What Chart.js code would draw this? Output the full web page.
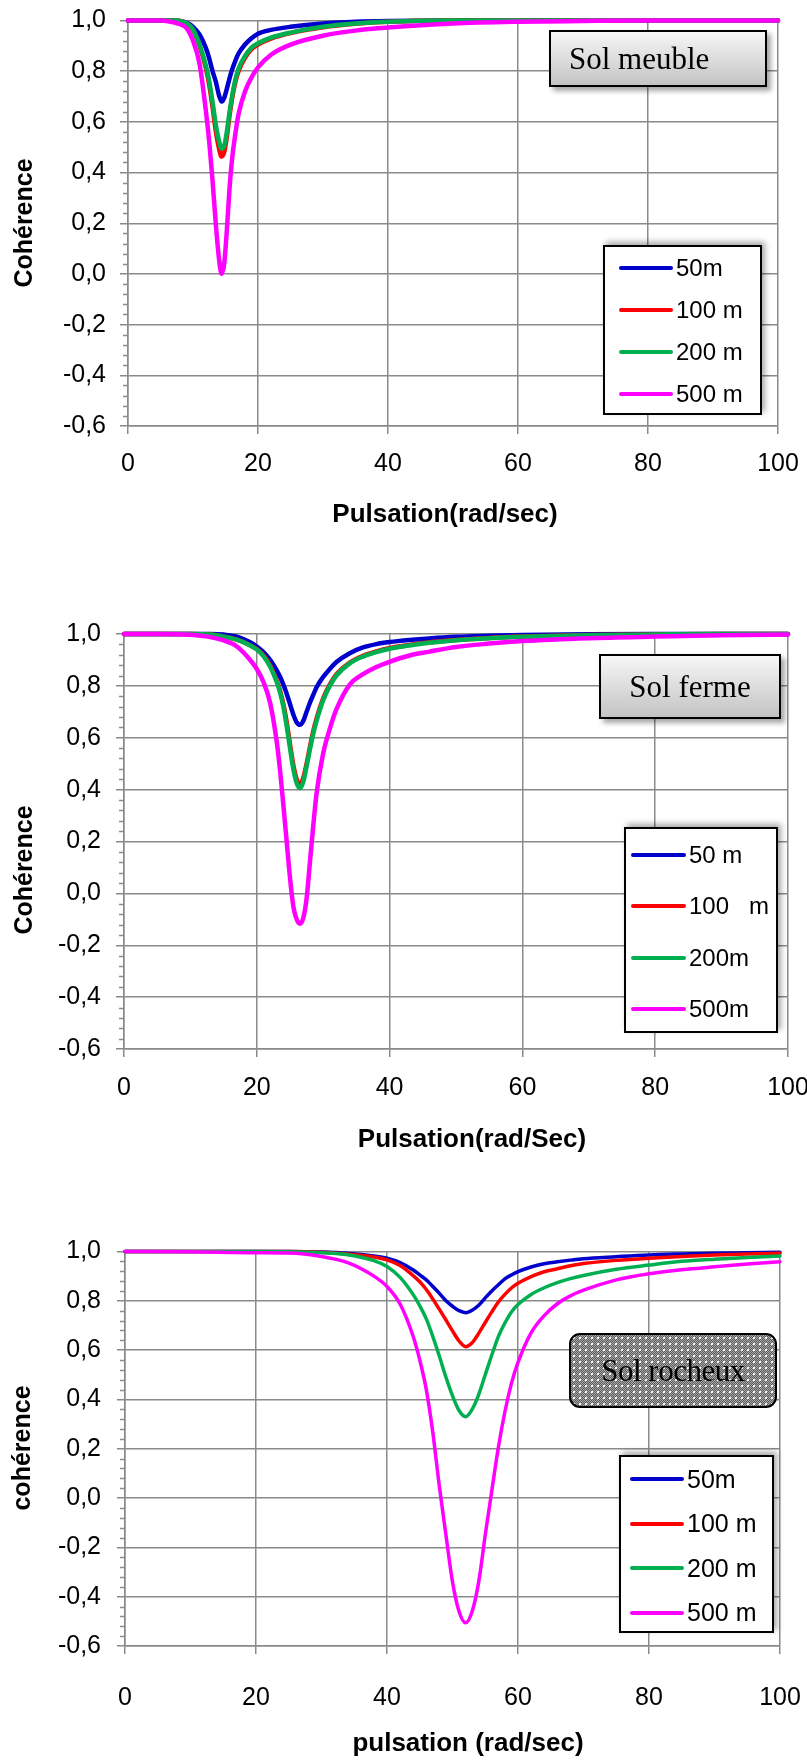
<!DOCTYPE html>
<html>
<head>
<meta charset="utf-8">
<script src="https://cdn.jsdelivr.net/npm/chart.js@4.4.1/dist/chart.umd.min.js"></script>
<style>
  body { margin: 0; background: #fff; }
  #page { position: relative; width: 807px; height: 1760px; overflow: hidden; }
  .plot { position: absolute; left: 0; width: 807px; }
  .tag {
    position: absolute; box-sizing: border-box; border: 2.5px solid #000;
    font-family: "Liberation Serif", "Times New Roman", serif; font-size: 31px; color: #000;
    display: flex; align-items: center; white-space: pre;
  }
  .shade { background: linear-gradient(#f7f7f7, #c3c3c3); box-shadow: 4px 4px 5px rgba(0,0,0,.35); }
  .rock {
    border-radius: 11px; background-color: #7c7c7c;
    background-image: radial-gradient(circle, rgba(255,255,255,.95) 0.8px, transparent 1.2px),
                      repeating-conic-gradient(#5c5c5c 0 25%, #a9a9a9 0 50%);
    background-size: 6px 6px, 2px 2px;
  }
  .legend {
    position: absolute; box-sizing: border-box; border: 2px solid #000; background: #fff;
    box-shadow: 3px -3px 6px rgba(0,0,0,.35);
    font-family: "Liberation Sans", Arial, sans-serif; color: #000;
  }
  .legend .row { display: flex; align-items: center; white-space: pre; }
  .legend .swatch { height: 4px; border-radius: 2px; display: inline-block; }
</style>
</head>
<body>
<div id="page">
  <div class="plot" id="p1"><canvas id="c1"></canvas></div>
  <div class="plot" id="p2"><canvas id="c2"></canvas></div>
  <div class="plot" id="p3"><canvas id="c3"></canvas></div>

  <div class="tag shade" style="left:549px; top:30px; width:218px; height:57px; padding-left:18px;">Sol meuble</div>
  <div class="tag shade" style="left:599px; top:654px; width:182px; height:65px; justify-content:center;">Sol ferme</div>
  <div class="tag rock" style="left:569px; top:1333px; width:208px; height:75px; justify-content:center; letter-spacing:-0.5px;">Sol rocheux</div>

  <div class="legend" id="l1"></div>
  <div class="legend" id="l2"></div>
  <div class="legend" id="l3"></div>
</div>

<script>
// axis ranges
const xMin = 0, xMax = 100, xStep = 20;
const yMin = -0.6, yMax = 1.0, yStep = 0.2, yMinorStep = 0.04;

const colors = ["#0000CC", "#FF0000", "#00B050", "#FF00FF"];

// Sol meuble
const meubleNames = ["50m", "100 m", "200 m", "500 m"];
const meubleX   = [0, 5, 7, 8, 9, 10, 11, 12, 12.5, 13, 13.5, 14, 14.4, 14.8, 15.2, 15.6, 16, 16.5, 17, 18, 19, 20, 22, 25, 30, 35, 40, 50, 60, 70, 80, 90, 100];
const meuble50  = [1, 1, 1, 0.998, 0.992, 0.975, 0.945, 0.89, 0.85, 0.80, 0.76, 0.705, 0.68, 0.695, 0.73, 0.77, 0.805, 0.84, 0.87, 0.905, 0.93, 0.948, 0.963, 0.975, 0.988, 0.995, 0.998, 1, 1, 1, 1, 1, 1];
const meuble100 = [1, 1, 1, 0.998, 0.99, 0.963, 0.90, 0.81, 0.745, 0.66, 0.565, 0.495, 0.463, 0.48, 0.54, 0.62, 0.69, 0.755, 0.80, 0.853, 0.887, 0.905, 0.928, 0.95, 0.973, 0.987, 0.995, 1, 1, 1, 1, 1, 1];
const meuble200 = [1, 1, 1, 0.998, 0.99, 0.965, 0.905, 0.82, 0.76, 0.68, 0.59, 0.525, 0.495, 0.505, 0.56, 0.635, 0.70, 0.765, 0.81, 0.86, 0.893, 0.91, 0.932, 0.952, 0.975, 0.988, 0.995, 1, 1, 1, 1, 1, 1];
const meuble500 = [1, 1, 0.993, 0.985, 0.97, 0.92, 0.83, 0.64, 0.52, 0.37, 0.20, 0.06, 0.0, 0.04, 0.17, 0.33, 0.45, 0.55, 0.63, 0.72, 0.775, 0.815, 0.865, 0.905, 0.94, 0.96, 0.972, 0.988, 0.995, 0.998, 1, 1, 1];

// Sol ferme
const fermeNames = ["50 m", "100   m", "200m", "500m"];
const fermeX   = [0, 5, 10, 13, 15, 17, 19, 20, 21, 22, 23, 23.5, 24, 24.5, 25, 25.5, 26, 26.5, 27, 27.5, 28, 28.5, 29, 30, 31, 32, 34, 36, 38, 40, 43, 46, 50, 55, 60, 70, 80, 90, 100];
const ferme50  = [1, 1, 1, 1, 0.998, 0.99, 0.968, 0.952, 0.93, 0.9, 0.86, 0.835, 0.805, 0.77, 0.73, 0.69, 0.66, 0.65, 0.665, 0.70, 0.735, 0.765, 0.795, 0.835, 0.865, 0.892, 0.926, 0.948, 0.961, 0.969, 0.977, 0.983, 0.989, 0.993, 0.996, 0.999, 1, 1, 1];
const ferme100 = [1, 1, 1, 0.998, 0.99, 0.978, 0.957, 0.942, 0.918, 0.879, 0.82, 0.782, 0.73, 0.66, 0.575, 0.495, 0.44, 0.42, 0.445, 0.50, 0.565, 0.625, 0.675, 0.752, 0.806, 0.845, 0.89, 0.916, 0.933, 0.946, 0.958, 0.968, 0.977, 0.985, 0.99, 0.996, 0.998, 1, 1];
const ferme200 = [1, 1, 1, 0.998, 0.99, 0.978, 0.956, 0.94, 0.915, 0.875, 0.815, 0.775, 0.72, 0.645, 0.56, 0.48, 0.425, 0.405, 0.43, 0.49, 0.555, 0.615, 0.665, 0.745, 0.80, 0.84, 0.887, 0.913, 0.93, 0.943, 0.956, 0.966, 0.976, 0.984, 0.989, 0.995, 0.998, 1, 1];
const ferme500 = [1, 1, 0.997, 0.988, 0.975, 0.952, 0.9, 0.865, 0.815, 0.735, 0.585, 0.475, 0.34, 0.2, 0.06, -0.05, -0.1, -0.117, -0.095, -0.02, 0.12, 0.26, 0.385, 0.54, 0.635, 0.71, 0.805, 0.845, 0.873, 0.893, 0.917, 0.932, 0.95, 0.963, 0.973, 0.984, 0.99, 0.995, 0.998];

// Sol rocheux
const rocheuxNames = ["50m", "100 m", "200 m", "500 m"];
const rocheuxX   = [0, 10, 20, 25, 30, 34, 38, 40, 42, 44, 45, 46, 47, 48, 49, 50, 51, 52, 53, 54, 55, 56, 57, 58, 59, 60, 62, 64, 66, 68, 70, 75, 80, 85, 90, 95, 100];
const rocheux50  = [1, 1, 1, 1, 0.998, 0.993, 0.982, 0.973, 0.955, 0.925, 0.905, 0.885, 0.858, 0.83, 0.80, 0.778, 0.76, 0.752, 0.762, 0.782, 0.812, 0.84, 0.865, 0.889, 0.905, 0.918, 0.937, 0.95, 0.958, 0.965, 0.971, 0.979, 0.986, 0.99, 0.993, 0.995, 0.997];
const rocheux100 = [1, 1, 1, 1, 0.997, 0.99, 0.978, 0.966, 0.943, 0.902, 0.877, 0.846, 0.807, 0.765, 0.722, 0.678, 0.637, 0.614, 0.63, 0.668, 0.712, 0.755, 0.795, 0.826, 0.852, 0.871, 0.898, 0.918, 0.93, 0.942, 0.951, 0.964, 0.973, 0.98, 0.986, 0.99, 0.993];
const rocheux200 = [1, 1, 1, 0.999, 0.995, 0.987, 0.963, 0.939, 0.895, 0.825, 0.78, 0.727, 0.655, 0.575, 0.49, 0.415, 0.355, 0.33, 0.36, 0.42, 0.50, 0.58, 0.655, 0.71, 0.755, 0.785, 0.826, 0.853, 0.874, 0.89, 0.903, 0.928, 0.945, 0.96, 0.969, 0.976, 0.982];
const rocheux500 = [1, 0.999, 0.995, 0.994, 0.98, 0.955, 0.9, 0.858, 0.787, 0.655, 0.56, 0.44, 0.265, 0.046, -0.15, -0.34, -0.46, -0.506, -0.46, -0.34, -0.15, 0.03, 0.205, 0.35, 0.465, 0.55, 0.67, 0.74, 0.788, 0.82, 0.843, 0.885, 0.91, 0.926, 0.938, 0.949, 0.958];

const GRID = "#8a8a8a";
const SANS = "'Liberation Sans', Arial, sans-serif";
const TICK_SIZE = 25, XTITLE_SIZE = 26, YTITLE_SIZE = 25;
const PAGE_W = 807;

// page layout of the three panels (page pixels)
const panels = [
  { canvas: "c1", wrap: "p1", legend: "l1", top: 0, height: 540,
    plotTop: 20.5, plotBottom: 426, plotLeft: 128, plotRight: 778,
    xTitlePos: [445, 515], yTitlePos: [25, 223], xPad: 15, yPad: 14, lineW: 4.5,
    xTitle: "Pulsation(rad/sec)", yTitle: "Cohérence",
    xs: meubleX, ys: [meuble50, meuble100, meuble200, meuble500], names: meubleNames,
    leg: { left: 603, top: 245, width: 159, height: 170, rowH: 42, swX: 14, swW: 54, size: 24 } },
  { canvas: "c2", wrap: "p2", legend: "l2", top: 590, height: 570,
    plotTop: 634, plotBottom: 1049, plotLeft: 124, plotRight: 788,
    xTitlePos: [472, 1140], yTitlePos: [25, 870], xPad: 16, yPad: 15, lineW: 4.5,
    xTitle: "Pulsation(rad/Sec)", yTitle: "Cohérence",
    xs: fermeX, ys: [ferme50, ferme100, ferme200, ferme500], names: fermeNames,
    leg: { left: 624, top: 827, width: 154, height: 206, rowH: 51.5, swX: 5, swW: 55, size: 24 } },
  { canvas: "c3", wrap: "p3", legend: "l3", top: 1200, height: 560,
    plotTop: 1251.5, plotBottom: 1646, plotLeft: 125, plotRight: 780,
    xTitlePos: [468, 1744], yTitlePos: [23, 1448], xPad: 29, yPad: 16, lineW: 3.5,
    xTitle: "pulsation (rad/sec)", yTitle: "cohérence",
    xs: rocheuxX, ys: [rocheux50, rocheux100, rocheux200, rocheux500], names: rocheuxNames,
    leg: { left: 619, top: 1455, width: 155, height: 178, rowH: 44.5, swX: 9, swW: 54, size: 25 } }
];

function fmtY(v) {
  if (Math.abs(v) < 1e-9) return "0,0";
  return v.toFixed(1).replace(".", ",");
}

// short minor ticks between the labelled ones on the y axis
const minorTicks = {
  id: "minorTicks",
  afterDraw(chart) {
    const y = chart.scales.y;
    const ctx = chart.ctx;
    const per = Math.round(yStep / yMinorStep);
    const n = Math.round((yMax - yMin) / yMinorStep);
    ctx.save();
    ctx.strokeStyle = GRID;
    ctx.lineWidth = 1.5;
    for (let k = 0; k <= n; k++) {
      if (k % per === 0) continue;
      const py = Math.round(y.getPixelForValue(yMin + k * yMinorStep)) + 0.5;
      ctx.beginPath();
      ctx.moveTo(y.right - 5, py);
      ctx.lineTo(y.right, py);
      ctx.stroke();
    }
    ctx.restore();
  }
};

// axis titles placed where the panel layout says
const axisTitles = {
  id: "axisTitles",
  afterDraw(chart, args, opts) {
    const ctx = chart.ctx;
    ctx.save();
    ctx.fillStyle = "#000";
    ctx.textAlign = "center";
    ctx.textBaseline = "middle";
    ctx.font = "bold " + XTITLE_SIZE + "px " + SANS;
    ctx.fillText(opts.xText, opts.xPos[0], opts.xPos[1]);
    ctx.translate(opts.yPos[0], opts.yPos[1]);
    ctx.rotate(-Math.PI / 2);
    ctx.font = "bold " + YTITLE_SIZE + "px " + SANS;
    ctx.fillText(opts.yText, 0, 0);
    ctx.restore();
  }
};

function buildLegend(p) {
  const el = document.getElementById(p.legend);
  const L = p.leg;
  Object.assign(el.style, { left: L.left + "px", top: L.top + "px", width: L.width + "px", height: L.height + "px", fontSize: L.size + "px" });
  p.names.forEach((name, i) => {
    const row = document.createElement("div");
    row.className = "row";
    row.style.height = L.rowH + "px";
    const sw = document.createElement("span");
    sw.className = "swatch";
    sw.style.background = colors[i];
    sw.style.width = L.swW + "px";
    sw.style.marginLeft = L.swX + "px";
    const txt = document.createElement("span");
    txt.textContent = name;
    txt.style.marginLeft = "3px";
    row.append(sw, txt);
    el.appendChild(row);
  });
}

function drawPanel(p) {
  const wrap = document.getElementById(p.wrap);
  wrap.style.top = p.top + "px";
  wrap.style.height = p.height + "px";

  const datasets = p.ys.map((ys, i) => ({
    label: p.names[i],
    data: p.xs.map((x, j) => ({ x: x, y: ys[j] })),
    borderColor: colors[i],
    backgroundColor: colors[i],
    borderWidth: p.lineW,
    pointRadius: 0,
    cubicInterpolationMode: "monotone",
    borderCapStyle: "round",
    borderJoinStyle: "round",
    clip: false,
    order: p.ys.length - 1 - i   // later series painted on top
  }));

  new Chart(document.getElementById(p.canvas), {
    type: "line",
    data: { datasets: datasets },
    options: {
      responsive: true,
      maintainAspectRatio: false,
      animation: false,
      events: [],
      layout: {
        padding: { left: 0, top: p.plotTop - p.top, right: PAGE_W - p.plotRight, bottom: 0 }
      },
      plugins: {
        legend: { display: false },
        tooltip: { enabled: false },
        axisTitles: {
          xText: p.xTitle, yText: p.yTitle,
          xPos: [p.xTitlePos[0], p.xTitlePos[1] - p.top],
          yPos: [p.yTitlePos[0], p.yTitlePos[1] - p.top]
        }
      },
      scales: {
        x: {
          type: "linear", min: xMin, max: xMax,
          ticks: { stepSize: xStep, color: "#000", padding: p.xPad, maxRotation: 0,
                   font: { family: SANS, size: TICK_SIZE } },
          grid: { color: GRID, lineWidth: 1.5, tickLength: 8, tickColor: GRID, tickWidth: 1.5 },
          border: { color: GRID, width: 1.5 },
          afterFit: s => {
            s.height = p.top + p.height - p.plotBottom;
            s.paddingLeft = 0;
            s.paddingRight = 0;
          }
        },
        y: {
          min: yMin, max: yMax,
          ticks: { stepSize: yStep, color: "#000", padding: p.yPad, callback: fmtY,
                   font: { family: SANS, size: TICK_SIZE } },
          grid: { color: GRID, lineWidth: 1.5, tickLength: 8, tickColor: GRID, tickWidth: 1.5 },
          border: { color: GRID, width: 1.5 },
          afterFit: s => {
            s.width = p.plotLeft;
            s.paddingTop = 0;
            s.paddingBottom = 0;
          }
        }
      }
    },
    plugins: [minorTicks, axisTitles]
  });

  buildLegend(p);
}

panels.forEach(drawPanel);
</script>
</body>
</html>
